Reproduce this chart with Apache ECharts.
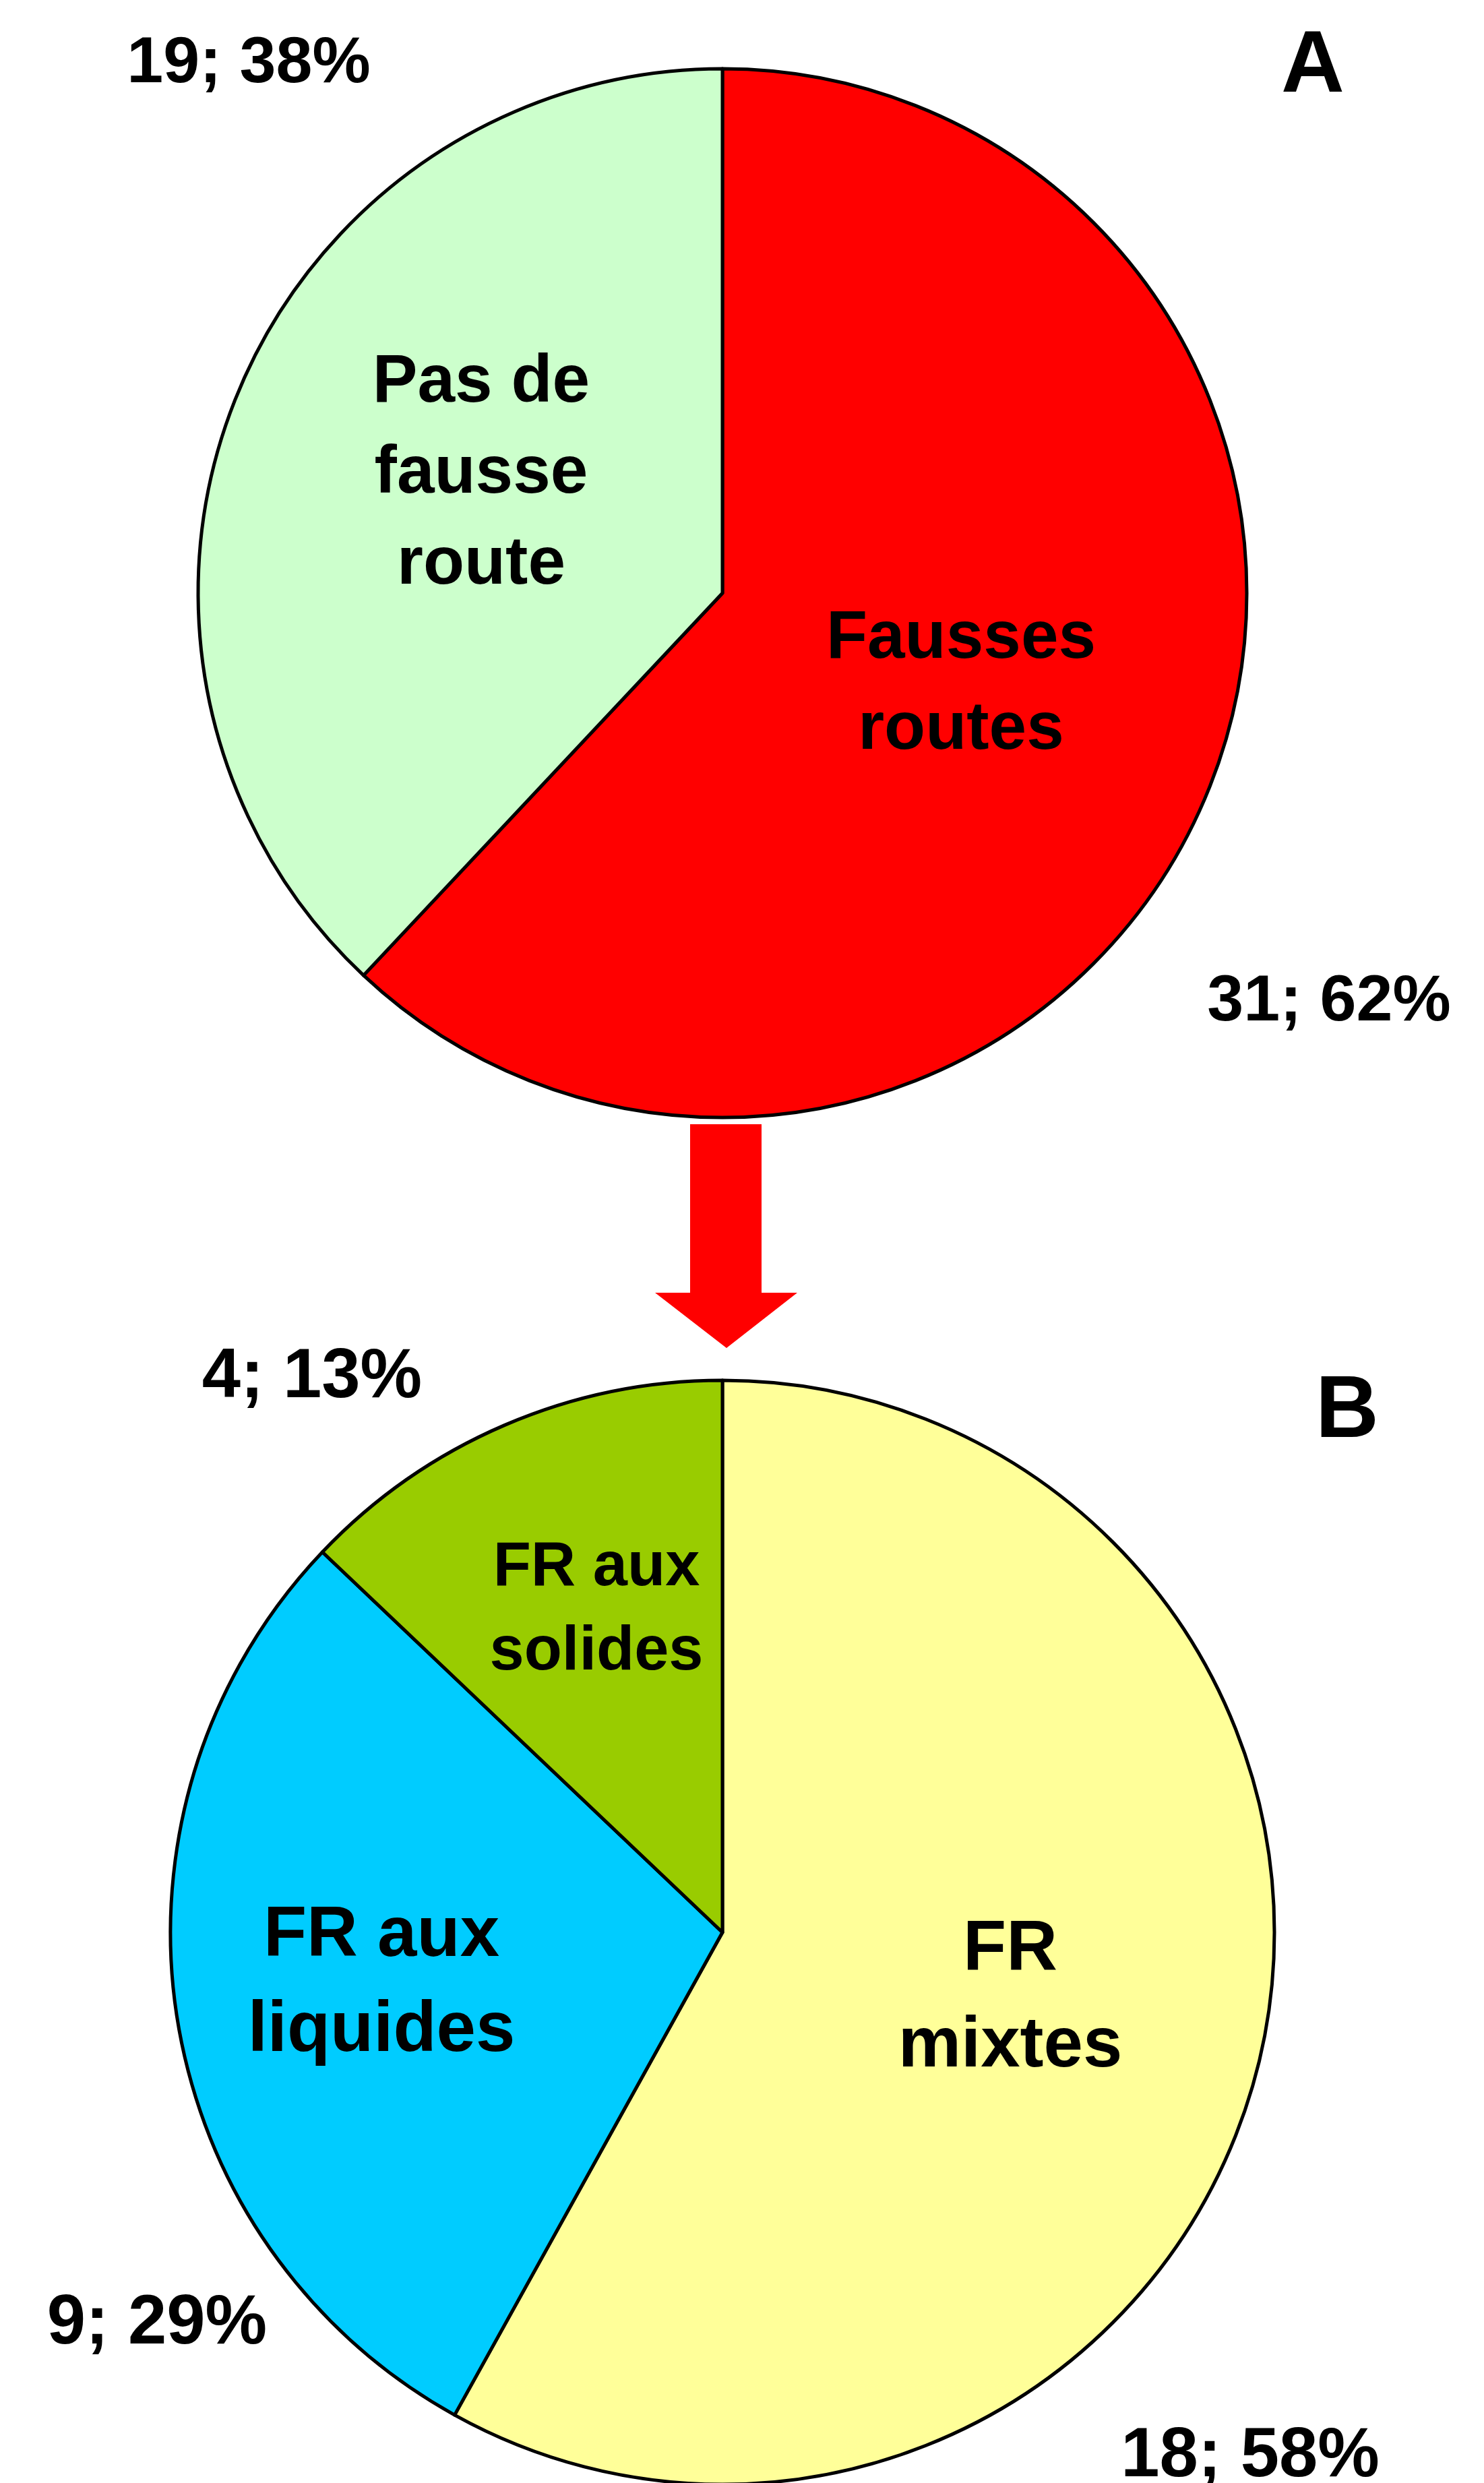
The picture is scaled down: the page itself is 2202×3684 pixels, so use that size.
<!DOCTYPE html>
<html>
<head>
<meta charset="utf-8">
<script src="https://cdn.jsdelivr.net/npm/echarts@6/dist/echarts.min.js"></script>
<style>
html, body { margin: 0; padding: 0; background: #fff; }
#chart { width: 2202px; height: 3684px; }
</style>
</head>
<body>
<div id="chart"></div>
<script>
// A : fausses routes ou pas
var catA = ['Fausses\nroutes', 'Pas de\nfausse\nroute'];
var valA = [31, 19];
var colA = ['#ff0000', '#ccffcc'];

// B : type de fausse route
var catB = ['FR\nmixtes', 'FR aux\nliquides', 'FR aux\nsolides'];
var valB = [18, 9, 4];
var colB = ['#ffff99', '#00ccff', '#99cc00'];

// placement des etiquettes (px)
var nameA = [[1426, 1016], [714, 703]];
var pctA = [[1972, 1487], [369, 95]];
var nameB = [[1499, 2966], [566, 2944], [885, 2389]];
var pctB = [[1855, 3646], [233, 3449], [463, 2045]];
var nameSizeB = [105, 105, 92];
var lineB = [143, 141, 125];

var font = '"Liberation Sans", Arial, sans-serif';

function sliceData(cats, vals, cols) {
    return cats.map(function (c, i) {
        return { name: c, value: vals[i], itemStyle: { color: cols[i] } };
    });
}

function placeAt(pos) {
    return function (params) {
        var p = pos[params.dataIndex];
        return { x: p[0], y: p[1], align: 'center', verticalAlign: 'middle' };
    };
}

// secteurs + noms dans les parts
function pieSeries(center, radius, cats, vals, cols, pos, sizes, lines) {
    var data = sliceData(cats, vals, cols);
    data.forEach(function (d, i) {
        d.label = { fontSize: sizes[i], lineHeight: lines[i] };
    });
    return {
        type: 'pie',
        center: center,
        radius: radius,
        startAngle: 90,
        clockwise: true,
        avoidLabelOverlap: false,
        silent: true,
        animation: false,
        itemStyle: { borderColor: '#000', borderWidth: 5 },
        label: {
            show: true,
            position: 'inside',
            formatter: '{b}',
            color: '#000',
            fontFamily: font,
            fontWeight: 'bold',
            align: 'center'
        },
        labelLine: { show: false },
        labelLayout: placeAt(pos),
        emphasis: { disabled: true },
        data: data
    };
}

// meme camembert, transparent, pour les etiquettes "n; %"
function valueSeries(center, radius, cats, vals, pos, size) {
    var data = cats.map(function (c, i) { return { name: c, value: vals[i] }; });
    return {
        type: 'pie',
        center: center,
        radius: radius,
        startAngle: 90,
        clockwise: true,
        avoidLabelOverlap: false,
        percentPrecision: 0,
        silent: true,
        animation: false,
        itemStyle: { color: 'rgba(0,0,0,0)', borderWidth: 0 },
        label: {
            show: true,
            position: 'outside',
            formatter: '{c}; {d}%',
            color: '#000',
            fontFamily: font,
            fontWeight: 'bold',
            fontSize: size
        },
        labelLine: { show: false },
        labelLayout: placeAt(pos),
        emphasis: { disabled: true },
        data: data
    };
}

var myChart = echarts.init(document.getElementById('chart'), null, { renderer: 'canvas' });

var option = {
    backgroundColor: '#fff',
    animation: false,
    graphic: [
        {
            type: 'polygon',
            shape: { points: [[1024, 1668], [1130, 1668], [1130, 1918], [1183, 1918], [1078, 2000], [972, 1918], [1024, 1918]] },
            style: { fill: '#ff0000' },
            silent: true
        },
        {
            type: 'text', x: 1948, y: 100, silent: true,
            style: { text: 'A', fontSize: 130, fontWeight: 'bold', fontFamily: font, fill: '#000', align: 'center', verticalAlign: 'middle' }
        },
        {
            type: 'text', x: 1999, y: 2096, silent: true,
            style: { text: 'B', fontSize: 130, fontWeight: 'bold', fontFamily: font, fill: '#000', align: 'center', verticalAlign: 'middle' }
        }
    ],
    series: [
        pieSeries([1072, 880], 778, catA, valA, colA, nameA, [100, 100], [135, 135]),
        valueSeries([1072, 880], 778, catA, valA, pctA, 97),
        pieSeries([1072, 2867], 819, catB, valB, colB, nameB, nameSizeB, lineB),
        valueSeries([1072, 2867], 819, catB, valB, pctB, 103)
    ]
};
myChart.setOption(option);
</script>
</body>
</html>
